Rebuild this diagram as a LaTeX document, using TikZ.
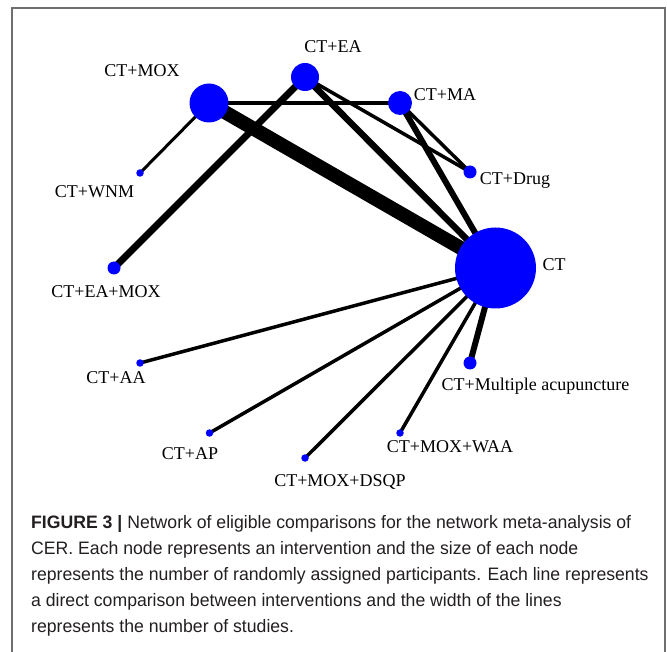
\documentclass[tikz,border=0pt]{standalone}
\usepackage{fontspec}
\setmainfont{Liberation Serif}
\newfontfamily\capfont[FakeStretch=0.98]{Liberation Sans}
\usetikzlibrary{backgrounds}
\definecolor{nodeblue}{RGB}{0,0,255}
\definecolor{framegray}{RGB}{110,110,110}
\definecolor{captext}{RGB}{35,31,32}
\begin{document}
\begin{tikzpicture}[x=1pt,y=-1pt,
  tnode/.style={circle,fill=nodeblue,draw=none,inner sep=0pt,minimum size=#1},
  lbl/.style={anchor=base,inner sep=0pt,font=\fontsize{18}{20}\selectfont},
  caplbl/.style={anchor=base west,inner sep=0pt,text=captext,font=\capfont\fontsize{18}{26}\selectfont},
  edge/.style={line width=#1,draw=black}]
\useasboundingbox (0,0) rectangle (667,652);
\draw[framegray,line width=1.4pt] (12,652) -- (12,8) -- (665,8) -- (665,652);

% nodes
\node[tnode=28pt] (EA) at (305,77) {};
\node[tnode=39pt] (MOX) at (209,103) {};
\node[tnode=24pt] (MA) at (400,103) {};
\node[tnode=13pt] (Drug) at (470,172) {};
\node[tnode=7.5pt] (WNM) at (140,173) {};
\node[tnode=81pt] (CT) at (495.5,268) {};
\node[tnode=13pt] (EAMOX) at (114,268) {};
\node[tnode=7.5pt] (AA) at (140,363) {};
\node[tnode=13pt] (MULT) at (470,363) {};
\node[tnode=7.5pt] (AP) at (209.5,433) {};
\node[tnode=7.5pt] (WAA) at (400,433) {};
\node[tnode=7.5pt] (DSQP) at (305,458) {};

% edges
\begin{pgfonlayer}{background}
\draw[edge=14pt] (MOX.center) -- (CT.center);
\draw[edge=4pt] (MOX.center) -- (MA.center);
\draw[edge=3pt] (MOX.center) -- (WNM.center);
\draw[edge=7pt] (EA.center) -- (EAMOX.center);
\draw[edge=6.5pt] (EA.center) -- (CT.center);
\draw[edge=3.5pt] (EA.center) -- (Drug.center);
\draw[edge=6pt] (MA.center) -- (CT.center);
\draw[edge=3.5pt] (MA.center) -- (Drug.center);
\draw[edge=3.5pt] (CT.center) -- (AA.center);
\draw[edge=3.5pt] (CT.center) -- (AP.center);
\draw[edge=3.5pt] (CT.center) -- (DSQP.center);
\draw[edge=3.5pt] (CT.center) -- (WAA.center);
\draw[edge=6pt] (CT.center) -- (MULT.center);
\end{pgfonlayer}

% labels
\node[lbl] (lEA) at (333,53) {CT+EA};
\node[lbl] (lMOX) at (142,77) {CT+MOX};
\node[lbl] (lMA) at (445,101) {CT+MA};
\node[lbl] (lDrug) at (515,185) {CT+Drug};
\node[lbl] (lWNM) at (94.5,198) {CT+WNM};
\node[lbl] (lEAMOX) at (106,298) {CT+EA+MOX};
\node[lbl] (lCT) at (554,271) {CT};
\node[lbl] (lAA) at (116,384) {CT+AA};
\node[lbl] (lMULT) at (535.5,391) {CT+Multiple acupuncture};
\node[lbl] (lAP) at (190,459) {CT+AP};
\node[lbl] (lWAA) at (450,452) {CT+MOX+WAA};
\node[lbl] (lDSQP) at (340,486) {CT+MOX+DSQP};

% caption
\node[caplbl] (cap1) at (31,528) {\textbf{FIGURE 3 |} Network of eligible comparisons for the network meta-analysis of};
\node[caplbl] (cap2) at (31,554) {CER. Each node represents an intervention and the size of each node};
\node[caplbl] (cap3) at (31,580) {represents the number of randomly assigned participants. Each line represents};
\node[caplbl] (cap4) at (31,606) {a direct comparison between interventions and the width of the lines};
\node[caplbl] (cap5) at (31,632) {represents the number of studies.};
\end{tikzpicture}
\end{document}
